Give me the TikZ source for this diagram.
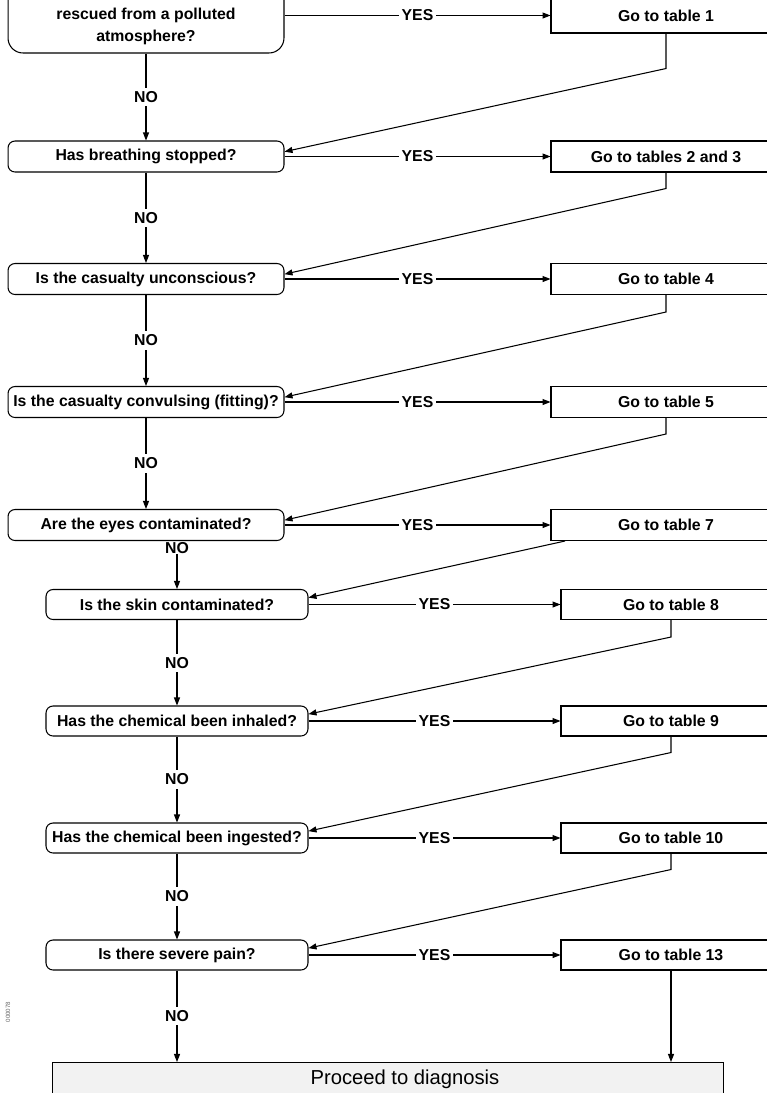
\documentclass[tikz,border=0pt]{standalone}
\usepackage{fontspec}
\setmainfont{Liberation Sans}
\usepackage{tikz}
\usetikzlibrary{positioning}
\usetikzlibrary{arrows.meta}

\begin{document}
\begin{tikzpicture}
                [x=0.02cm, y=-0.02cm,
                 txt/.style = {font=\bfseries\fontsize{9}{12.5}\selectfont},
                 ask/.style = {draw, txt, rounded corners=1.4mm, minimum width=5.52cm, minimum height=0.62cm, inner sep=0pt, line width=0.6pt},
                 asklow/.style = {ask, minimum width=5.24cm, minimum height=0.6cm},
                 goto/.style = {draw, txt, minimum width=4.6cm, minimum height=0.62cm, inner sep=0pt, line width=0.6pt},
                 gotolow/.style = {goto, minimum width=4.4cm, minimum height=0.6cm},
                 arr/.style = {-{Triangle[length=1.6mm,width=1.2mm]}, line width=0.6pt},
                 yes/.style = {txt, fill=white, inner xsep=1.5pt, inner ysep=1pt},
                 no/.style = {txt, fill=white, inner xsep=1pt, inner ysep=2pt}]

                \clip (0,0) rectangle (767,1093);

                \node[ask, rounded corners=3mm, minimum height=1.72cm] (q1) at (146,10) {};
                \node[txt, align=center] (q1txt) at (146,26) {rescued from a polluted\\atmosphere?};
                \node[ask] (q2) at (146,156.5) {Has breathing stopped?};
                \node[ask] (q3) at (146,279) {Is the casualty unconscious?};
                \node[ask] (q4) at (146,402) {Is the casualty convulsing (fitting)?};
                \node[ask] (q5) at (146,525) {Are the eyes contaminated?};
                \node[asklow] (q6) at (177,604.5) {Is the skin contaminated?};
                \node[asklow] (q7) at (177,721) {Has the chemical been inhaled?};
                \node[asklow] (q8) at (177,838) {Has the chemical been ingested?};
                \node[asklow] (q9) at (177,955) {Is there severe pain?};

                \node[goto, minimum height=0.7cm] (a1) at (666,15.5) {Go to table 1};
                \node[goto] (a2) at (666,156.5) {Go to tables 2 and 3};
                \node[goto] (a3) at (666,279) {Go to table 4};
                \node[goto] (a4) at (666,402) {Go to table 5};
                \node[goto] (a5) at (666,525) {Go to table 7};
                \node[gotolow] (a6) at (671,604.5) {Go to table 8};
                \node[gotolow] (a7) at (671,721) {Go to table 9};
                \node[gotolow] (a8) at (671,838) {Go to table 10};
                \node[gotolow] (a9) at (671,955) {Go to table 13};

                \node[draw, fill=black!5, line width=0.6pt, minimum width=13.44cm, minimum height=0.9cm] (diag) at (388,1085) {};
                \node[font=\fontsize{11.5}{13}\selectfont] (diagtxt) at (405,1079) {Proceed to diagnosis};
                \node[rotate=90, text=black!60, font=\fontsize{3.5}{4}\selectfont] (code) at (8,1012) {000078};

                \draw[arr] (a1 -| q1.east) -- node[yes] {YES} (a1.west);
                \draw[arr] (q2) -- node[yes] {YES} (a2);
                \draw[arr] (q3) -- node[yes] {YES} (a3);
                \draw[arr] (q4) -- node[yes] {YES} (a4);
                \draw[arr] (q5) -- node[yes] {YES} (a5);
                \draw[arr] (q6) -- node[yes] {YES} (a6);
                \draw[arr] (q7) -- node[yes] {YES} (a7);
                \draw[arr] (q8) -- node[yes] {YES} (a8);
                \draw[arr] (q9) -- node[yes] {YES} (a9);

                \draw[arr] (a1.south) -- ++(0,35) -- (q2.2);
                \draw[arr] (a2.south) -- ++(0,16) -- (q3.2);
                \draw[arr] (a3.south) -- ++(0,17) -- (q4.2);
                \draw[arr] (a4.south) -- ++(0,16) -- (q5.2);
                \draw[arr] ([xshift=-2.02cm]a5.south) -- (q6.3);
                \draw[arr] (a6.south) -- ++(0,17) -- (q7.3);
                \draw[arr] (a7.south) -- ++(0,16) -- (q8.3);
                \draw[arr] (a8.south) -- ++(0,16) -- (q9.3);
                \draw[arr] (a9.south) -- (a9.south |- diag.north);

                \draw[arr] (q1.south) -- node[no] {NO} (q2.north);
                \draw[arr] (q2) -- node[no] {NO} (q3);
                \draw[arr] (q3) -- node[no] {NO} (q4);
                \draw[arr] (q4) -- node[no] {NO} (q5);
                \node[no, inner ysep=0pt] (no5) at (177,548) {NO};
                \draw[arr] (no5) -- (q6);
                \draw[arr] (q6) -- node[no] {NO} (q7);
                \draw[arr] (q7) -- node[no] {NO} (q8);
                \draw[arr] (q8) -- node[no] {NO} (q9);
                \draw[arr] (q9) -- node[no] {NO} (q9 |- diag.north);

\end{tikzpicture}
\end{document}
